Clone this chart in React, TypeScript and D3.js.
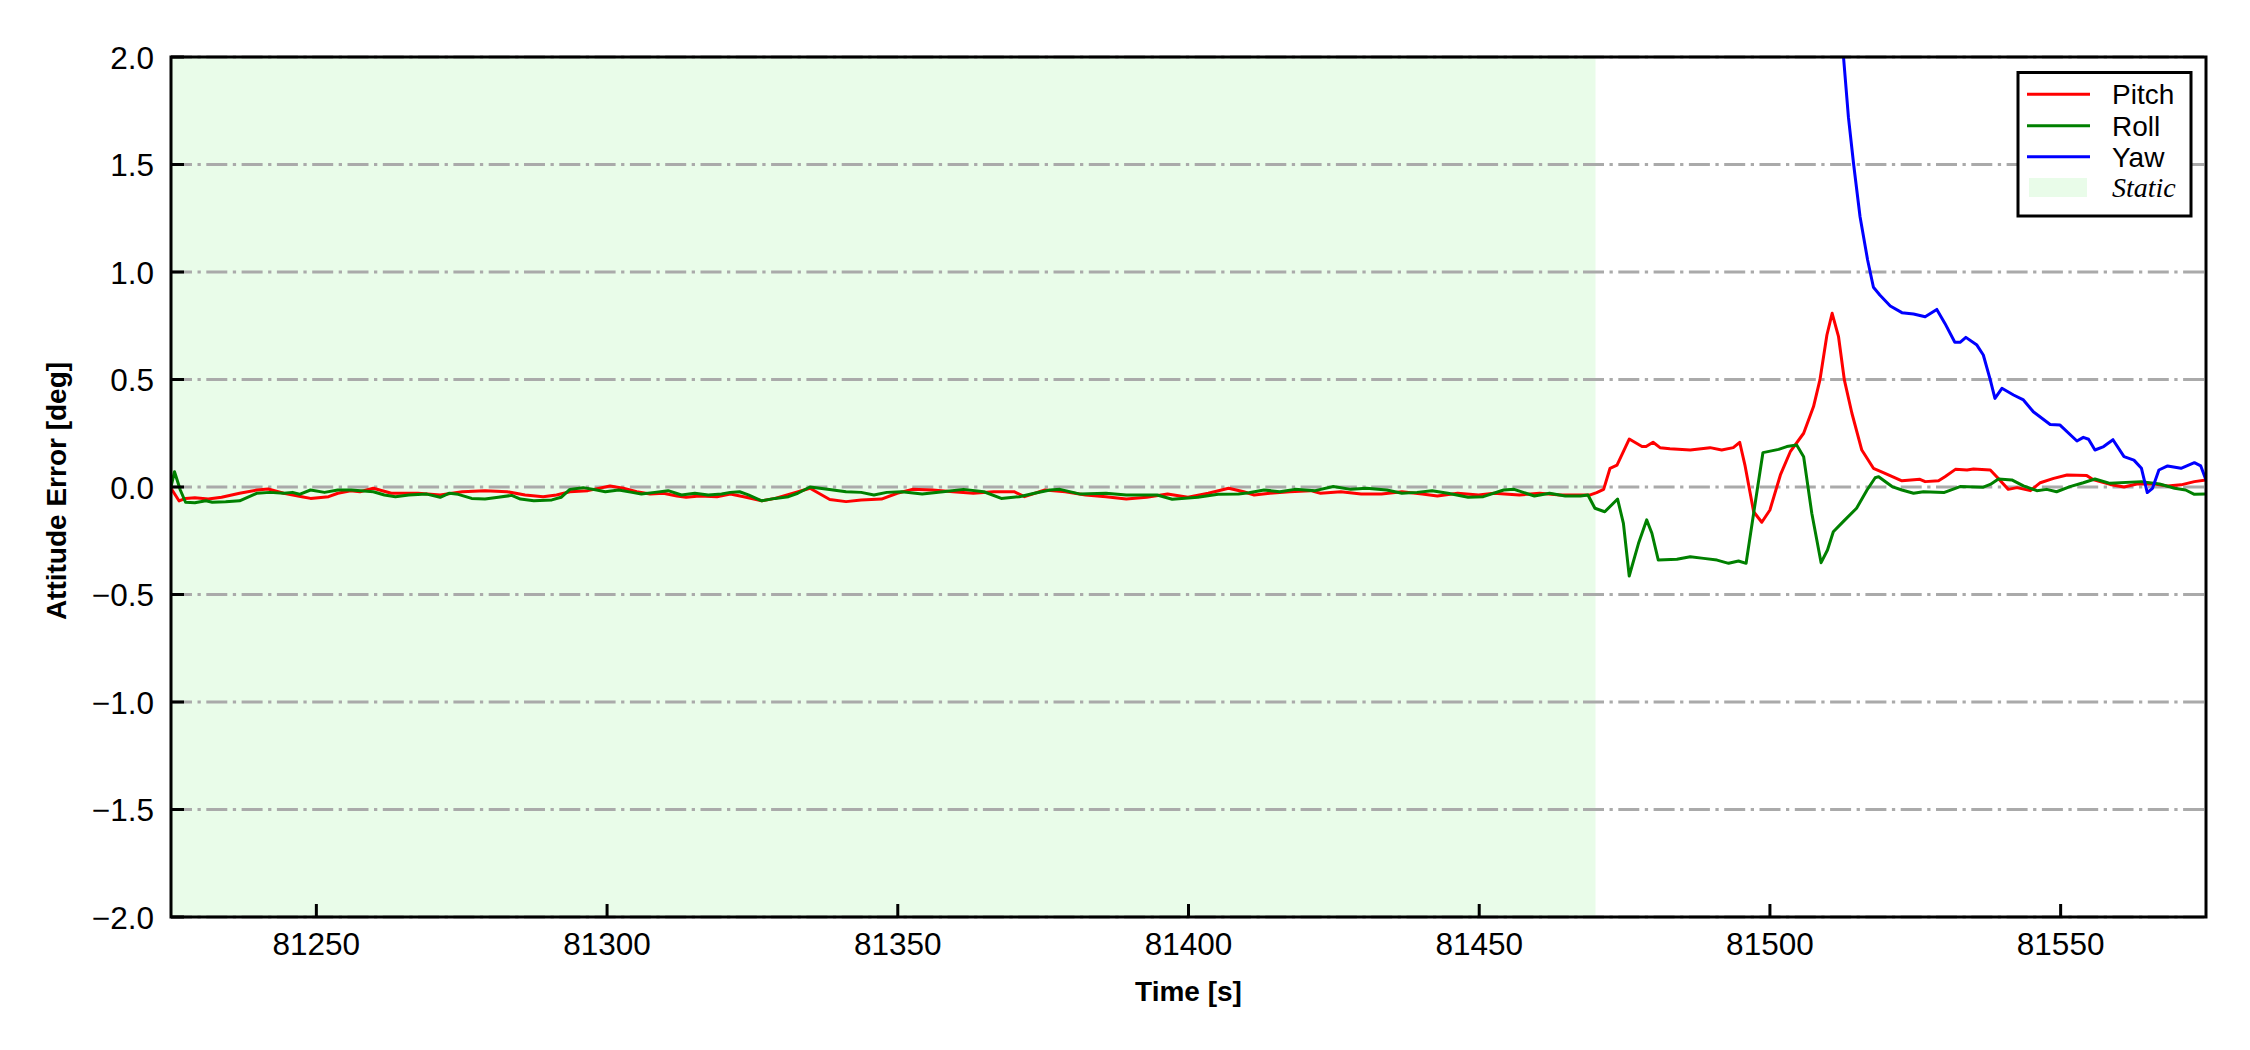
import React from "react";
import * as d3 from "d3";

// ---- data (time [s], value [deg]) ----
const pitchData: [number, number][] = [
  [81225.0, -0.006], [81226.4, -0.065], [81227.5, -0.053], [81229.1, -0.05], [81231.4, -0.056],
  [81233.7, -0.048], [81236.8, -0.029], [81239.8, -0.014], [81241.7, -0.009], [81244.4, -0.029],
  [81247.5, -0.045], [81249.0, -0.053], [81252.1, -0.045], [81253.7, -0.029], [81255.9, -0.017],
  [81257.5, -0.022], [81259.8, -0.006], [81262.9, -0.029], [81267.5, -0.029], [81271.3, -0.037],
  [81275.1, -0.022], [81279.0, -0.017], [81282.8, -0.022], [81285.9, -0.037], [81289.0, -0.045],
  [81291.3, -0.037], [81293.6, -0.022], [81296.7, -0.017], [81300.5, 0.005], [81302.8, -0.006],
  [81305.1, -0.022], [81307.4, -0.033], [81309.7, -0.029], [81312.0, -0.042], [81313.6, -0.048],
  [81315.9, -0.042], [81318.9, -0.045], [81321.2, -0.033], [81323.5, -0.045], [81326.6, -0.064],
  [81328.9, -0.053], [81332.0, -0.029], [81334.9, -0.006], [81338.3, -0.058], [81341.1, -0.068],
  [81343.7, -0.06], [81347.2, -0.056], [81349.9, -0.029], [81352.5, -0.011], [81356.0, -0.014],
  [81359.5, -0.022], [81363.0, -0.029], [81366.5, -0.022], [81370.0, -0.022], [81371.8, -0.045],
  [81375.3, -0.014], [81378.8, -0.022], [81382.3, -0.037], [81385.8, -0.045], [81389.3, -0.056],
  [81392.8, -0.048], [81396.4, -0.033], [81399.9, -0.048], [81403.4, -0.029], [81406.9, -0.006],
  [81409.5, -0.022], [81411.3, -0.037], [81414.0, -0.029], [81417.4, -0.022], [81421.0, -0.017],
  [81422.7, -0.029], [81426.2, -0.022], [81429.7, -0.033], [81433.2, -0.033], [81436.7, -0.022],
  [81440.2, -0.033], [81442.8, -0.042], [81446.3, -0.029], [81449.9, -0.037], [81452.5, -0.029],
  [81456.9, -0.037], [81460.4, -0.029], [81463.9, -0.037], [81466.5, -0.037], [81469.1, -0.037],
  [81470.2, -0.026], [81471.4, -0.011], [81472.5, 0.087], [81473.7, 0.102], [81475.8, 0.223],
  [81478.0, 0.188], [81478.7, 0.188], [81479.9, 0.208], [81481.1, 0.183], [81482.8, 0.178],
  [81486.3, 0.172], [81489.7, 0.183], [81491.7, 0.172], [81493.7, 0.183], [81494.8, 0.208],
  [81495.7, 0.102], [81497.2, -0.115], [81498.6, -0.164], [81500.0, -0.107], [81501.8, 0.056],
  [81503.5, 0.164], [81505.8, 0.25], [81507.5, 0.374], [81508.6, 0.498], [81509.8, 0.707],
  [81510.7, 0.808], [81511.8, 0.699], [81512.8, 0.498], [81514.1, 0.343], [81515.8, 0.172],
  [81517.8, 0.087], [81519.5, 0.067], [81522.7, 0.029], [81525.8, 0.036], [81526.7, 0.025],
  [81529.0, 0.029], [81530.1, 0.048], [81531.9, 0.082], [81533.9, 0.079], [81535.0, 0.084],
  [81537.9, 0.079], [81539.0, 0.048], [81541.0, -0.011], [81542.5, -0.003], [81544.8, -0.017],
  [81546.5, 0.02], [81548.8, 0.04], [81551.1, 0.056], [81554.5, 0.053], [81555.7, 0.033],
  [81558.5, 0.012], [81560.9, 0.0], [81563.1, 0.014], [81566.2, 0.014], [81568.4, 0.005],
  [81570.7, 0.01], [81573.0, 0.025], [81575.0, 0.033],
];

const rollData: [number, number][] = [
  [81225.0, 0.0], [81225.6, 0.071], [81226.6, -0.014], [81227.5, -0.071], [81229.1, -0.073],
  [81231.0, -0.064], [81232.1, -0.071], [81234.4, -0.069], [81236.8, -0.064], [81239.8, -0.029],
  [81242.0, -0.025], [81244.4, -0.029], [81245.9, -0.025], [81247.1, -0.034], [81249.0, -0.014],
  [81251.4, -0.025], [81253.7, -0.014], [81256.0, -0.014], [81259.8, -0.022], [81261.7, -0.037],
  [81263.6, -0.045], [81265.9, -0.037], [81269.0, -0.033], [81271.3, -0.048], [81272.9, -0.029],
  [81274.4, -0.034], [81276.7, -0.053], [81279.0, -0.056], [81281.3, -0.048], [81283.6, -0.039],
  [81285.1, -0.056], [81287.4, -0.064], [81290.5, -0.06], [81292.1, -0.048], [81293.6, -0.011],
  [81295.9, -0.003], [81298.2, -0.014], [81299.7, -0.022], [81302.0, -0.014], [81304.3, -0.025],
  [81305.9, -0.033], [81308.2, -0.025], [81310.5, -0.017], [81312.8, -0.037], [81315.1, -0.029],
  [81317.4, -0.037], [81319.7, -0.033], [81321.2, -0.025], [81322.8, -0.022], [81324.3, -0.037],
  [81326.6, -0.064], [81328.9, -0.053], [81331.2, -0.045], [81332.8, -0.029], [81334.9, 0.0],
  [81337.6, -0.009], [81341.1, -0.022], [81343.7, -0.025], [81345.9, -0.037], [81348.1, -0.025],
  [81350.7, -0.022], [81354.2, -0.033], [81357.8, -0.022], [81361.3, -0.011], [81364.8, -0.022],
  [81367.8, -0.053], [81370.9, -0.045], [81373.5, -0.029], [81376.2, -0.014], [81377.9, -0.011],
  [81381.4, -0.033], [81385.8, -0.029], [81389.3, -0.037], [81394.6, -0.037], [81397.2, -0.057],
  [81401.6, -0.048], [81405.1, -0.034], [81408.6, -0.033], [81410.4, -0.027], [81413.0, -0.014],
  [81415.7, -0.022], [81418.3, -0.011], [81421.8, -0.017], [81424.9, 0.002], [81427.9, -0.011],
  [81430.6, -0.006], [81434.1, -0.014], [81436.7, -0.029], [81439.3, -0.025], [81441.9, -0.017],
  [81444.6, -0.029], [81448.1, -0.048], [81450.7, -0.045], [81454.2, -0.014], [81456.0, -0.011],
  [81459.5, -0.042], [81462.1, -0.029], [81464.8, -0.042], [81467.4, -0.042], [81468.7, -0.037],
  [81469.9, -0.099], [81471.6, -0.115], [81473.8, -0.056], [81474.8, -0.169], [81475.8, -0.414],
  [81477.4, -0.262], [81478.8, -0.153], [81479.7, -0.215], [81480.8, -0.34], [81484.0, -0.336],
  [81486.3, -0.324], [81488.6, -0.332], [81490.9, -0.34], [81492.9, -0.355], [81494.6, -0.344],
  [81495.9, -0.355], [81497.2, -0.122], [81498.8, 0.16], [81501.5, 0.175], [81502.9, 0.188],
  [81504.6, 0.195], [81505.8, 0.141], [81507.2, -0.122], [81508.8, -0.352], [81509.9, -0.293],
  [81510.9, -0.208], [81512.6, -0.161], [81514.9, -0.099], [81516.7, -0.014], [81518.1, 0.043],
  [81518.7, 0.048], [81521.0, 0.002], [81522.7, -0.014], [81524.7, -0.029], [81526.4, -0.022],
  [81529.9, -0.026], [81532.7, 0.002], [81536.7, -0.001], [81537.9, 0.012], [81539.3, 0.037],
  [81541.6, 0.033], [81543.6, 0.005], [81545.9, -0.017], [81547.6, -0.011], [81549.3, -0.022],
  [81551.6, 0.002], [81553.9, 0.02], [81555.9, 0.037], [81558.5, 0.017], [81563.9, 0.025],
  [81567.0, 0.014], [81569.6, -0.006], [81571.5, -0.014], [81573.0, -0.034], [81575.0, -0.033],
];

const yawData: [number, number][] = [
  [81511.9, 2.25], [81513.5, 1.72], [81514.4, 1.5], [81515.5, 1.257], [81516.8, 1.056],
  [81517.8, 0.929], [81518.9, 0.893], [81520.7, 0.842], [81522.7, 0.811], [81524.7, 0.805],
  [81526.7, 0.792], [81528.7, 0.826], [81530.1, 0.761], [81531.8, 0.673], [81532.7, 0.673],
  [81533.7, 0.696], [81535.6, 0.66], [81536.7, 0.614], [81537.9, 0.498], [81538.7, 0.412],
  [81539.9, 0.459], [81541.9, 0.428], [81543.6, 0.405], [81545.3, 0.35], [81548.2, 0.291],
  [81549.9, 0.288], [81552.8, 0.214], [81553.9, 0.231], [81554.8, 0.222], [81555.9, 0.172],
  [81557.4, 0.188], [81559.0, 0.22], [81560.9, 0.141], [81562.6, 0.125], [81563.9, 0.087],
  [81564.9, -0.026], [81565.8, -0.006], [81566.9, 0.079], [81568.4, 0.098], [81570.7, 0.087],
  [81573.0, 0.113], [81574.1, 0.098], [81575.0, 0.033],
];

const staticSpan: [number, number] = [81225, 81470];
const xDomain: [number, number] = [81225, 81575];
const yDomain: [number, number] = [-2, 2];
const xTickValues = [81250, 81300, 81350, 81400, 81450, 81500, 81550];
const yTickValues = [-2, -1.5, -1, -0.5, 0, 0.5, 1, 1.5, 2];
const seriesNames = ["Pitch", "Roll", "Yaw"];
const seriesColors = ["#ff0000", "#008000", "#0000ff"];
const staticLabel = "Static";
const xLabel = "Time [s]";
const yLabel = "Attitude Error [deg]";

const W = 2250;
const H = 1050;
const L = 171;
const R = 2206;
const T = 57;
const B = 917;

const SANS = "'Liberation Sans', Arial, Helvetica, sans-serif";
const SERIF = "'Liberation Serif', 'Times New Roman', serif";

export default function App() {
  const x = d3.scaleLinear().domain(xDomain).range([L, R]);
  const y = d3.scaleLinear().domain(yDomain).range([B, T]);
  const line = d3
    .line<[number, number]>()
    .x((d) => x(d[0]))
    .y((d) => y(d[1]));
  const series = [pitchData, rollData, yawData];
  const fmtY = (v: number) => {
    const s = Math.abs(v).toFixed(1);
    return v < 0 ? "\u2212" + s : s;
  };

  const legX = 2018;
  const legY = 72.5;
  const legRows = [94.3, 125.7, 156.7, 187.5];

  return (
    <svg
      width={W}
      height={H}
      viewBox={`0 0 ${W} ${H}`}
      style={{ position: "absolute", left: 0, top: 0, background: "#fff" }}
    >
      <defs>
        <clipPath id="plotClip">
          <rect x={L} y={T} width={R - L} height={B - T} />
        </clipPath>
      </defs>
      <rect x={0} y={0} width={W} height={H} fill="#fff" />
      {/* static span */}
      <rect
        x={x(staticSpan[0])}
        y={T}
        width={x(staticSpan[1]) - x(staticSpan[0])}
        height={B - T}
        fill="rgb(233,252,233)"
      />
      {/* grid */}
      {yTickValues.map((v) => (
        <line
          key={"g" + v}
          x1={L}
          x2={R}
          y1={y(v)}
          y2={y(v)}
          stroke="#aaaaaa"
          strokeWidth={3}
          strokeDasharray="21,5.5,3.3,5.5"
        />
      ))}
      {/* data */}
      <g clipPath="url(#plotClip)">
        {series.map((s, i) => (
          <path
            key={seriesNames[i]}
            d={line(s) || ""}
            fill="none"
            stroke={seriesColors[i]}
            strokeWidth={3}
            strokeLinejoin="round"
          />
        ))}
      </g>
      {/* ticks */}
      {xTickValues.map((v) => (
        <g key={"xt" + v}>
          <line x1={x(v)} x2={x(v)} y1={B} y2={B - 13} stroke="#000" strokeWidth={3} />
          <text
            x={x(v)}
            y={955}
            textAnchor="middle"
            fontFamily={SANS}
            fontSize={31.5}
            fill="#000"
          >
            {v}
          </text>
        </g>
      ))}
      {yTickValues.map((v) => (
        <g key={"yt" + v}>
          <line x1={L} x2={L + 13} y1={y(v)} y2={y(v)} stroke="#000" strokeWidth={3} />
          <text
            x={154}
            y={y(v) + 11.5}
            textAnchor="end"
            fontFamily={SANS}
            fontSize={31.5}
            fill="#000"
          >
            {fmtY(v)}
          </text>
        </g>
      ))}
      {/* spines */}
      <rect x={L} y={T} width={R - L} height={B - T} fill="none" stroke="#000" strokeWidth={3} />
      {/* axis labels */}
      <text
        x={(L + R) / 2}
        y={1001}
        textAnchor="middle"
        fontFamily={SANS}
        fontWeight="bold"
        fontSize={28}
        fill="#000"
      >
        {xLabel}
      </text>
      <text
        transform={`translate(65.5, ${(T + B) / 2 + 4}) rotate(-90)`}
        textAnchor="middle"
        fontFamily={SANS}
        fontWeight="bold"
        fontSize={28}
        fill="#000"
      >
        {yLabel}
      </text>
      {/* legend */}
      <g>
        <rect
          x={legX}
          y={legY}
          width={173}
          height={143.5}
          fill="#fff"
          stroke="#000"
          strokeWidth={3}
        />
        {seriesNames.map((n, i) => (
          <g key={"lg" + n}>
            <line
              x1={2027}
              x2={2090}
              y1={legRows[i]}
              y2={legRows[i]}
              stroke={seriesColors[i]}
              strokeWidth={3}
            />
            <text x={2112} y={legRows[i] + 10} fontFamily={SANS} fontSize={28} fill="#000">
              {n}
            </text>
          </g>
        ))}
        <rect x={2029} y={178} width={58} height={19} fill="rgb(233,252,233)" />
        <text
          x={2112}
          y={legRows[3] + 9.5}
          fontFamily={SERIF}
          fontStyle="italic"
          fontSize={28}
          fill="#000"
        >
          {staticLabel}
        </text>
      </g>
    </svg>
  );
}
